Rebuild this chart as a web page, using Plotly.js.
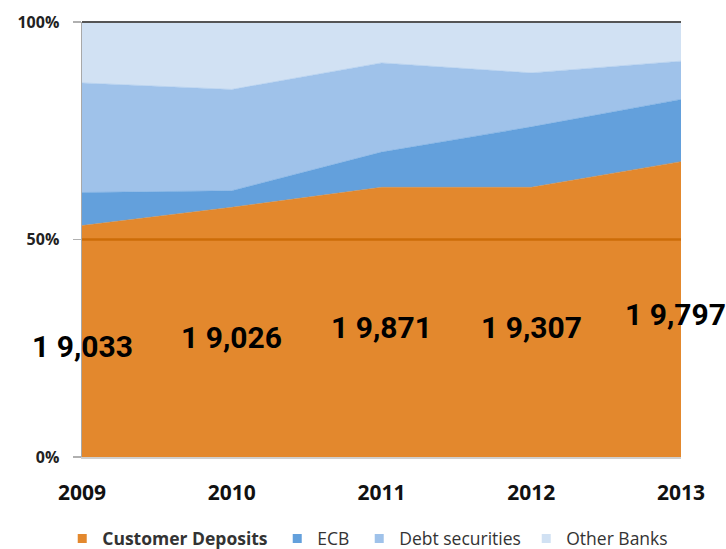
<!DOCTYPE html>
<html>
<head>
<meta charset="utf-8">
<script src="https://cdn.plot.ly/plotly-3.0.1.min.js"></script>
<style>html,body{margin:0;padding:0;background:#fff;}#chart{width:726px;height:549px;}</style>
</head>
<body>
<div id="chart"></div>
<script>
const years = [2009, 2010, 2011, 2012, 2013];
const customerDeposits = [53.2, 57.4, 62.0, 62.0, 67.9];
const ecb = [7.6, 3.8, 8.1, 13.9, 14.3];
const debtSecurities = [25.2, 23.3, 20.5, 12.4, 8.8];
const otherBanks = [14.0, 15.5, 9.4, 11.7, 9.0];
const seriesNames = ['<b>Customer Deposits</b>', 'ECB', 'Debt securities', 'Other Banks'];
const depositLabels = ["1 9,033", "1 9,026", "1 9,871", "1 9,307", "1 9,797"];
const yTickVals = [0, 50, 100];
const yTickText = ["0%", "50%", "100%"];

const colors = ['#e3882d', '#63a0dc', '#9fc2ea', '#d1e1f3'];
const legendWidths = [170, 37, 122, 110];
const seriesVals = [customerDeposits, ecb, debtSecurities, otherBanks];

const data = [];
seriesVals.forEach((vals, i) => {
  data.push({
    x: years, y: vals, name: seriesNames[i], type: 'scatter', mode: 'lines',
    stackgroup: 'one', fillcolor: colors[i], showlegend: false,
    line: {width: 0.5, color: colors[i]}, hoverinfo: 'skip'
  });
});
seriesVals.forEach((vals, i) => {
  data.push({
    x: [null], y: [null], name: seriesNames[i], type: 'scatter', mode: 'markers',
    marker: {symbol: 'square', size: 9, color: colors[i]},
    showlegend: true, legendwidth: legendWidths[i], hoverinfo: 'skip'
  });
});

const annotations = years.map((yr, i) => ({
  x: yr, y: customerDeposits[i] / 2, xref: 'x', yref: 'y',
  text: '<b>' + depositLabels[i] + '</b>', showarrow: false,
  xanchor: 'center', yanchor: 'middle', yshift: -5,
  xshift: i === years.length - 1 ? -6 : 0,
  font: {family: 'Roboto, sans-serif', size: 30, color: '#000'}
}));

const layout = {
  width: 726, height: 549,
  margin: {l: 82, r: 45, t: 22, b: 92, autoexpand: false},
  paper_bgcolor: '#fff', plot_bgcolor: '#fff',
  showlegend: true,
  legend: {
    orientation: 'h', x: -0.033, xanchor: 'left', y: -0.146, yanchor: 'top',
    font: {family: 'Open Sans, sans-serif', size: 17.5, color: '#333'},
    traceorder: 'normal', itemwidth: 30
  },
  xaxis: {
    range: [2009, 2013], tickvals: years, ticktext: years.map(String),
    showgrid: false, zeroline: false, showline: true, linecolor: '#cfcfcf', linewidth: 1.5,
    ticks: '', ticklabelstandoff: 16,
    tickfont: {family: 'Open Sans, sans-serif', size: 21, color: '#111', weight: 'bold'}
  },
  yaxis: {
    range: [0, 100], tickvals: yTickVals, ticktext: yTickText,
    showgrid: false, zeroline: false, showline: true, linecolor: '#a8a8a8', linewidth: 1.5,
    ticks: 'outside', ticklen: 8, tickcolor: '#b0b0b0', tickwidth: 1.5, ticklabelstandoff: 10,
    tickfont: {family: 'Open Sans, sans-serif', size: 16, color: '#222', weight: 'bold'}
  },
  shapes: [
    {type: 'line', xref: 'paper', x0: 0, x1: 1, yref: 'y', y0: 50, y1: 50,
     line: {color: '#cc6c08', width: 2.5}, layer: 'above'},
    {type: 'line', xref: 'paper', x0: 0, x1: 1, yref: 'paper', y0: 1, y1: 1,
     line: {color: '#555', width: 2}, layer: 'above'}
  ],
  annotations: annotations
};

Plotly.newPlot('chart', data, layout, {displayModeBar: false, staticPlot: true});
</script>
</body>
</html>
